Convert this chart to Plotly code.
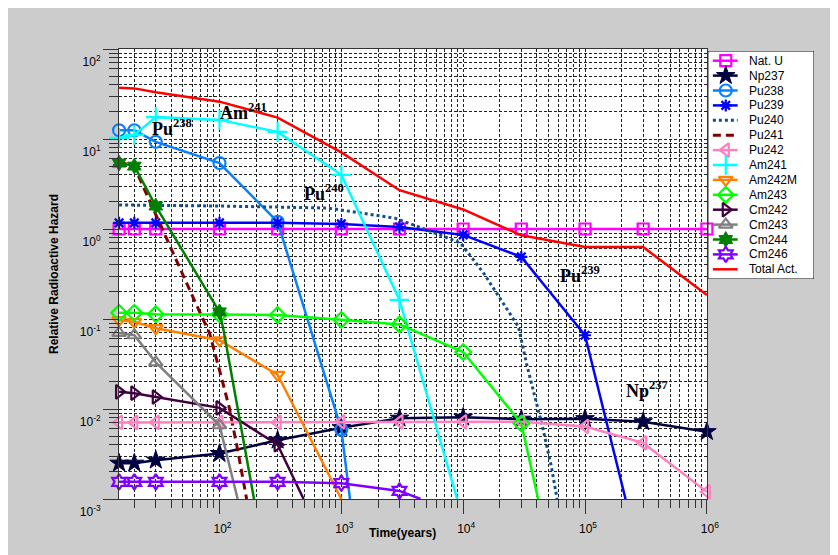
import numpy as np
import plotly.graph_objects as go

# ---------------- data ----------------
YMIN, YMAX = 1e-3, 1e2
XMIN, XMAX = 15, 1e6

# times at which the original plot shows markers
T_MARK = [15, 20, 30, 100, 300, 1000, 3000, 1e4, 3e4, 1e5, 3e5, 1e6]

x_tickvals = [1e2, 1e3, 1e4, 1e5, 1e6]
x_ticktext = ["10<sup>2</sup>", "10<sup>3</sup>", "10<sup>4</sup>", "10<sup>5</sup>", "10<sup>6</sup>"]
y_tickvals = [1e-3, 1e-2, 1e-1, 1e0, 1e1, 1e2]
y_ticktext = ["10<sup>-3</sup>", "10<sup>-2</sup>", "10<sup>-1</sup>", "10<sup>0</sup>",
              "10<sup>1</sup>", "10<sup>2</sup>"]

names = ["Nat. U", "Np237", "Pu238", "Pu239", "Pu240", "Pu241", "Pu242", "Am241",
         "Am242M", "Am243", "Cm242", "Cm243", "Cm244", "Cm246", "Total Act."]

t_natu = [15, 20, 30, 100, 300, 1000, 3000, 1e4, 3e4, 1e5, 3e5, 1e6]
v_natu = [1.0, 1.0, 1.0, 1.0, 1.0, 1.0, 1.0, 1.0, 1.0, 1.0, 1.0, 1.0]

t_np237 = [15, 20, 30, 100, 300, 1000, 3000, 1e4, 3e4, 1e5, 3e5, 1e6]
v_np237 = [0.0025, 0.0025, 0.0027, 0.0032, 0.0045, 0.0062, 0.0079, 0.0081, 0.0077, 0.0078, 0.0072, 0.0056]

t_pu238 = [15, 20, 30, 100, 300, 1000, 1177]
v_pu238 = [12.5, 12.5, 9.3, 5.4, 1.2, 0.0059, 0.001]

t_pu239 = [15, 20, 30, 100, 300, 1000, 3000, 1e4, 3e4, 1e5, 2.15e5]
v_pu239 = [1.17, 1.17, 1.17, 1.17, 1.17, 1.14, 1.05, 0.86, 0.49, 0.066, 0.001]

t_pu240 = [15, 100, 780, 1450, 2750, 5100, 9500, 14800, 21400, 28400, 33100, 37600, 45300, 52900, 58100, 59000]
v_pu240 = [1.85, 1.8, 1.71, 1.5, 1.32, 0.97, 0.70, 0.32, 0.15, 0.082, 0.032, 0.0163, 0.0059, 0.0023, 0.0012, 0.001]

t_pu241 = [15, 20, 62, 83, 100, 120, 141, 167]
v_pu241 = [5.6, 4.9, 0.163, 0.069, 0.027, 0.0105, 0.0035, 0.001]

t_pu242 = [15, 20, 30, 100, 300, 1000, 3000, 1e4, 3e4, 1e5, 3e5, 1e6]
v_pu242 = [0.0071, 0.0071, 0.0071, 0.0071, 0.0071, 0.0072, 0.0072, 0.0072, 0.0072, 0.0064, 0.0042, 0.0012]

t_am241 = [15, 20, 30, 100, 300, 1000, 3000, 8930]
v_am241 = [10.3, 11.1, 17.5, 16.3, 12.0, 4.0, 0.163, 0.001]

t_am242m = [15, 20, 30, 100, 300, 1000]
v_am242m = [0.097, 0.093, 0.079, 0.058, 0.024, 0.001]

t_am243 = [15, 20, 30, 100, 300, 1000, 3000, 1e4, 3e4, 41200]
v_am243 = [0.117, 0.117, 0.113, 0.113, 0.111, 0.098, 0.087, 0.043, 0.0069, 0.001]

t_cm242 = [15, 20, 30, 100, 300, 490]
v_cm242 = [0.0155, 0.015, 0.0136, 0.0103, 0.004, 0.001]

t_cm243 = [15, 20, 30, 100, 141]
v_cm243 = [0.07, 0.066, 0.033, 0.0066, 0.001]

t_cm244 = [15, 20, 30, 100, 108, 137, 166, 192]
v_cm244 = [5.4, 5.0, 1.8, 0.12, 0.075, 0.0126, 0.0029, 0.001]

t_cm246 = [15, 20, 30, 100, 300, 1000, 3000, 4470]
v_cm246 = [0.00155, 0.00155, 0.00155, 0.00155, 0.00155, 0.0015, 0.00123, 0.001]

t_total = [15, 20, 30, 100, 300, 1000, 3000, 1e4, 3e4, 1e5, 3e5, 1e6]
v_total = [37, 36.5, 33, 26, 17.3, 7.1, 2.7, 1.65, 0.85, 0.63, 0.63, 0.185]

labels_txt = ["Pu<sup>238</sup>", "Am<sup>241</sup>", "Pu<sup>240</sup>", "Pu<sup>239</sup>", "Np<sup>237</sup>"]

# ---------------- styles ----------------
series = [
    (t_natu, v_natu, dict(color="#ff00ff", dash="solid", symbol="square-open", size=11)),
    (t_np237, v_np237, dict(color="#000040", dash="solid", symbol="star", size=14)),
    (t_pu238, v_pu238, dict(color="#0a80ff", dash="solid", symbol="circle-open", size=12)),
    (t_pu239, v_pu239, dict(color="#0000ff", dash="solid", symbol="asterisk-open", size=10)),
    (t_pu240, v_pu240, dict(color="#104e8b", dash="dot", symbol=None, size=0)),
    (t_pu241, v_pu241, dict(color="#800000", dash="dash", symbol=None, size=0)),
    (t_pu242, v_pu242, dict(color="#ff80c0", dash="solid", symbol="triangle-left-open", size=12)),
    (t_am241, v_am241, dict(color="#00ffff", dash="solid", symbol="cross-thin-open", size=14)),
    (t_am242m, v_am242m, dict(color="#ff8000", dash="solid", symbol="triangle-down-open", size=12)),
    (t_am243, v_am243, dict(color="#00ff00", dash="solid", symbol="diamond-open", size=12)),
    (t_cm242, v_cm242, dict(color="#400040", dash="solid", symbol="triangle-right-open", size=12)),
    (t_cm243, v_cm243, dict(color="#808080", dash="solid", symbol="triangle-up-open", size=12)),
    (t_cm244, v_cm244, dict(color="#008000", dash="solid", symbol="hexagram", size=12)),
    (t_cm246, v_cm246, dict(color="#8000ff", dash="solid", symbol="hexagram-open", size=12)),
    (t_total, v_total, dict(color="#ff0000", dash="solid", symbol=None, size=0)),
]

FONT = "Arial, Liberation Sans, sans-serif"
SERIF = "Times New Roman, Liberation Serif, serif"

# pixel geometry (page coordinates of the reference; the page body adds an 8px margin)
OFF = 8
W, H = 838 - OFF, 555 - OFF
PL, PR, PT, PB = 119 - OFF, 712 - OFF, 49 - OFF, 499 - OFF      # main plot box
LL, LR, LT, LB = 713 - OFF, 820 - OFF, 51 - OFF, 279 - OFF      # legend box
ML, MR, MT, MBm = PL, W - LR, PT, H - PB
PW, PH = W - ML - MR, H - MT - MBm

fig = go.Figure()

def dash_of(d):
    return {"solid": "solid", "dot": "3px,3px", "dash": "8px,5px"}[d]

for (t, v, st), name in zip(series, names):
    lw = 3 if st["dash"] != "solid" else 2.5
    fig.add_trace(go.Scatter(
        x=t, y=v, mode="lines", name=name, showlegend=False,
        line=dict(color=st["color"], width=lw, dash=dash_of(st["dash"])),
        hoverinfo="skip", xaxis="x", yaxis="y"))
    if st["symbol"] is not None:
        mt = [a for a, b in zip(t, v) if a in T_MARK and YMIN < b <= YMAX]
        mv = [b for a, b in zip(t, v) if a in T_MARK and YMIN < b <= YMAX]
        filled = not st["symbol"].endswith("-open")
        fig.add_trace(go.Scatter(
            x=mt, y=mv, mode="markers", name=name, showlegend=False, cliponaxis=False,
            marker=dict(symbol=st["symbol"], size=st["size"], color=st["color"],
                        line=dict(color=st["color"], width=1 if filled else 2.2)),
            xaxis="x", yaxis="y"))

# ---------------- custom legend (compact, like the original) ----------------
step = 14.9
for i, ((t, v, st), name) in enumerate(zip(series, names)):
    yy = 9.7 + step * i
    lw = 3 if st["dash"] != "solid" else 2.5
    fig.add_trace(go.Scatter(
        x=[5, 30], y=[yy, yy], mode="lines", showlegend=False, hoverinfo="skip",
        line=dict(color=st["color"], width=lw, dash=dash_of(st["dash"])),
        xaxis="x2", yaxis="y2"))
    if st["symbol"] is not None:
        filled = not st["symbol"].endswith("-open")
        fig.add_trace(go.Scatter(
            x=[18], y=[yy], mode="markers", showlegend=False, hoverinfo="skip",
            cliponaxis=False,
            marker=dict(symbol=st["symbol"], size=st["size"], color=st["color"],
                        line=dict(color=st["color"], width=1 if filled else 2.2)),
            xaxis="x2", yaxis="y2"))
    fig.add_annotation(x=39, y=yy, xref="x2", yref="y2", text=name, showarrow=False,
                       xanchor="left", yanchor="middle",
                       font=dict(family=FONT, size=12, color="black"))

fig.add_shape(type="rect", xref="x2", yref="y2", x0=0, x1=LR - LL, y0=0, y1=LB - LT,
              line=dict(color="black", width=1), fillcolor="rgba(0,0,0,0)", layer="above")

# ---------------- nuclide annotations ----------------
def px2data(xp, yp):
    # reference page pixels -> log10 data coordinates
    lx = 2 + (xp - 220) / 123.0
    ly = (229 - yp) / 90.0
    return lx, ly

ann_px = [(150, 127), (218, 111), (303, 192), (562, 274), (628, 389)]
for txt, (xp, yp) in zip(labels_txt, ann_px):
    lx, ly = px2data(xp, yp)
    fig.add_annotation(x=lx, y=ly, xref="x", yref="y", text="<b>" + txt + "</b>",
                       showarrow=False, xanchor="left", yanchor="middle",
                       font=dict(family=SERIF, size=18, color="black"))

# x axis title placed like the original (same band as tick labels)
fig.add_annotation(x=(405 - OFF - ML) / PW, y=(H - MBm - (533 - OFF)) / PH,
                   xref="paper", yref="paper",
                   text="<b>Time(years)</b>", showarrow=False, xanchor="center", yanchor="middle",
                   font=dict(family=FONT, size=12, color="black"))

minor_x = [k * 10 ** e for e in range(1, 6) for k in range(2, 10) if k * 10 ** e >= XMIN]
minor_y = [k * 10.0 ** e for e in range(-3, 2) for k in range(2, 10)]

GRID = dict(showgrid=True, gridcolor="#222222", gridwidth=1, griddash="3px,2px")

fig.update_layout(
    width=W, height=H,
    margin=dict(l=ML, r=MR, t=MT, b=MBm, pad=0),
    paper_bgcolor="#cccccc", plot_bgcolor="#ffffff",
    showlegend=False,
    font=dict(family=FONT, size=12, color="black"),
    xaxis=dict(type="log", domain=[0, (PR - PL) / PW],
               range=[np.log10(XMIN) - 0.0008, np.log10(XMAX) + 0.0004],
               tickmode="array", tickvals=x_tickvals, ticktext=x_ticktext,
               ticks="outside", ticklen=14, tickwidth=1, tickcolor="#333333",
               showline=True, linecolor="#333333", linewidth=1, mirror=True,
               tickfont=dict(family=FONT, size=12, color="black"),
               ticklabelshift=3, ticklabelstandoff=5,
               minor=dict(tickmode="array", tickvals=minor_x, ticks="outside", ticklen=8,
                          tickcolor="#333333", **GRID),
               zeroline=False, anchor="y", **GRID),
    yaxis=dict(type="log", domain=[0, 1], range=[np.log10(YMIN), np.log10(YMAX)],
               tickmode="array", tickvals=y_tickvals, ticktext=y_ticktext,
               ticks="outside", ticklen=15, tickwidth=1, tickcolor="#333333",
               showline=True, linecolor="#333333", linewidth=1, mirror=True,
               tickfont=dict(family=FONT, size=12, color="black"),
               ticklabelshift=13,
               minor=dict(tickmode="array", tickvals=minor_y, ticks="outside", ticklen=9,
                          tickcolor="#333333", **GRID),
               title=dict(text="<b>Relative Radioactive Hazard</b>", standoff=18,
                          font=dict(family=FONT, size=12, color="black")),
               zeroline=False, anchor="x", **GRID),
    xaxis2=dict(domain=[(LL - ML) / PW, (LR - ML) / PW], range=[0, LR - LL], visible=False,
                anchor="y2", fixedrange=True),
    yaxis2=dict(domain=[(H - MBm - LB) / PH, (H - MBm - LT) / PH], range=[LB - LT, 0],
                visible=False, anchor="x2", fixedrange=True),
)

fig.write_html("out.html")
